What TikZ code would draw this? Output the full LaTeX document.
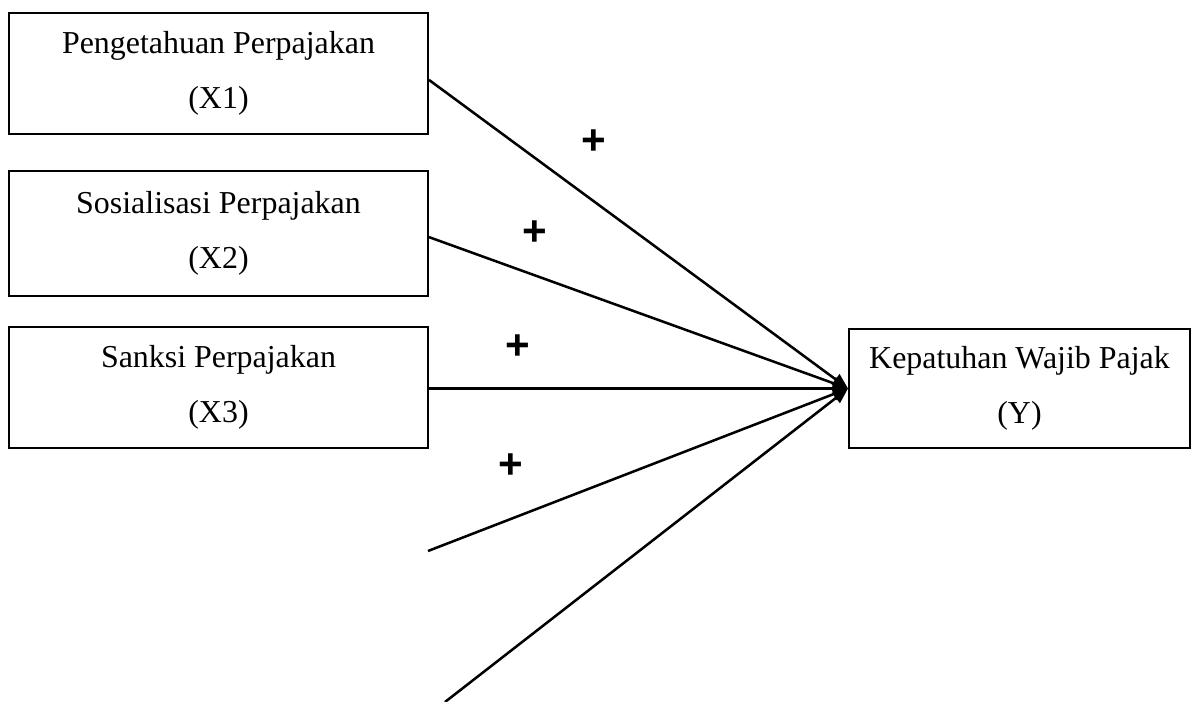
\documentclass[tikz,border=0pt]{standalone}
\usepackage{fontspec}
\setmainfont{Liberation Serif}
\newfontfamily\plusfont{Liberation Sans}
\usetikzlibrary{arrows.meta}

\begin{document}
\begin{tikzpicture}[x=0.025cm, y=-0.025cm,
    varbox/.style={draw, line width=1.3pt, align=center, inner sep=0pt,
        font=\fontsize{22.7}{39}\selectfont},
    plus/.style={font=\plusfont\bfseries\fontsize{30}{30}\selectfont},
    path/.style={line width=1.8pt, -{Triangle[length=11pt,width=9pt]}}]
    \useasboundingbox (0,0) rectangle (1204,702);
    \node [varbox, minimum width=10.475cm, minimum height=3.025cm] (X1) at (218.5,73.5) {Pengetahuan Perpajakan\\(X1)};
    \node [varbox, minimum width=10.475cm, minimum height=3.125cm] (X2) at (218.5,233.5) {Sosialisasi Perpajakan\\(X2)};
    \node [varbox, minimum width=10.475cm, minimum height=3.025cm] (X3) at (218.5,387.5) {Sanksi Perpajakan\\(X3)};
    \node [varbox, minimum width=8.525cm, minimum height=2.975cm] (Y) at (1019.5,388.5) {Kepatuhan Wajib Pajak\\(Y)};
    \coordinate (f4) at (428,551);
    \coordinate (f5) at (445,702);
    \draw [path] ([yshift=-0.16cm]X1.east)--(Y.west);
    \draw [path] ([yshift=-0.09cm]X2.east)--(Y.west);
    \draw [path] (X3.east |- Y.west)--(Y.west);
    \draw [path] (f4)--(Y.west);
    \draw [path] (f5)--(Y.west);
    \node [plus] (p1) at (594,142) {+};
    \node [plus] (p2) at (535,233) {+};
    \node [plus] (p3) at (518,347) {+};
    \node [plus] (p4) at (511,466) {+};
\end{tikzpicture}
\end{document}
